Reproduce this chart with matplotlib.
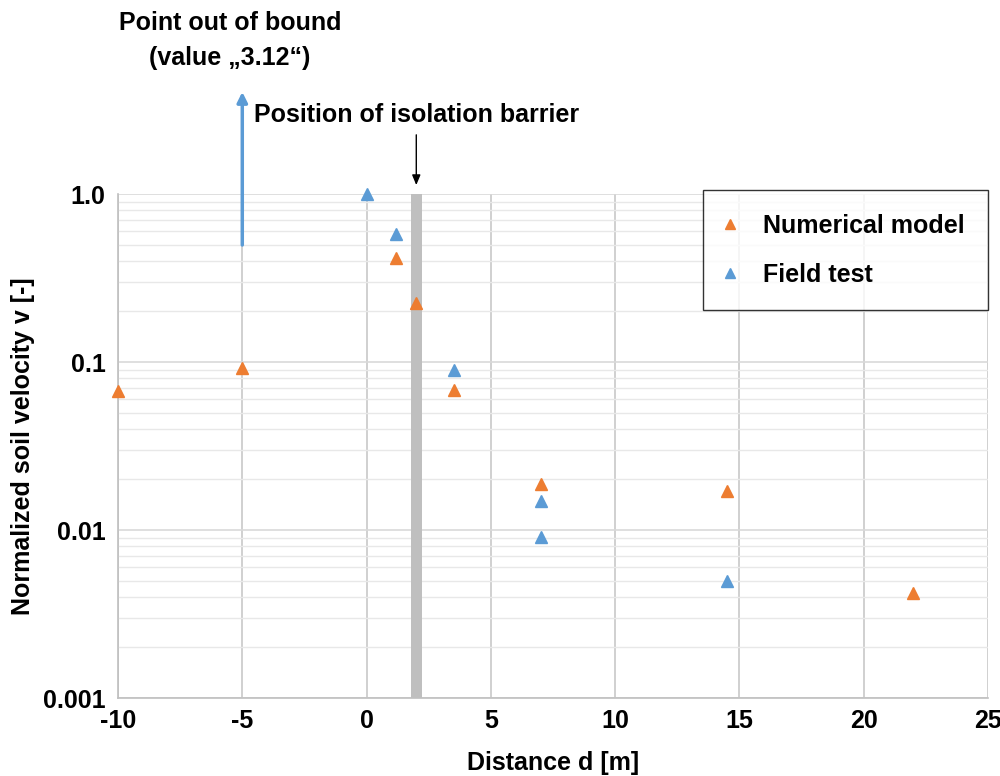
import matplotlib
matplotlib.use("Agg")
from matplotlib import pyplot as plt
from matplotlib.ticker import FixedLocator, NullFormatter, LogLocator

plt.rcParams['font.family'] = ['Liberation Sans', 'DejaVu Sans']
plt.rcParams['font.weight'] = 'bold'

# data
num_x = [-10, -5, 1.2, 2, 3.5, 7, 14.5, 22]
num_v = [0.067, 0.092, 0.416, 0.224, 0.068, 0.0188, 0.017, 0.0042]
field_x = [0, 1.2, 3.5, 7, 7, 14.5]
field_v = [1.0, 0.578, 0.0896, 0.0149, 0.0091, 0.005]
out_x = -5            # field point out of bound
out_v = 3.12
barrier_x = 2.0
barrier_w = 0.45
xticks = [-10, -5, 0, 5, 10, 15, 20, 25]
yticks = [0.001, 0.01, 0.1, 1.0]
ytick_labels = ['0.001', '0.01', '0.1', '1.0']

orange = '#ED7D31'
blue = '#5B9BD5'
fs = 18

fig = plt.figure(figsize=(10, 7.76), dpi=100)
ax = fig.add_axes([0.118, 0.1005, 0.870, 0.6495])
ax.set_yscale('log')
ax.set_xlim(-10, 25)
ax.set_ylim(0.001, 1.0)

# grid
ax.yaxis.set_minor_locator(LogLocator(base=10, subs=range(2, 10)))
ax.yaxis.set_minor_formatter(NullFormatter())
ax.grid(True, which='major', axis='y', color='#D9D9D9', lw=1.2)
ax.grid(True, which='minor', axis='y', color='#E8E8E8', lw=1.0)
ax.grid(True, which='major', axis='x', color='#C8C8C8', lw=1.2)
ax.set_axisbelow(True)

# barrier
ax.axvspan(barrier_x - barrier_w / 2, barrier_x + barrier_w / 2, color='#BFBFBF', lw=0, zorder=1.5)

ax.plot(num_x, num_v, ls='none', marker='^', ms=8.5, color=orange, label='Numerical model',
        zorder=3, clip_on=False)
ax.plot(field_x, field_v, ls='none', marker='^', ms=8.5, color=blue, label='Field test',
        zorder=3, clip_on=False)

# out-of-bound point arrow
ax.annotate('', xy=(out_x, 4.05), xytext=(out_x, 0.497), xycoords='data',
            arrowprops=dict(arrowstyle='-|>,head_length=0.6,head_width=0.3', color=blue, lw=2.5,
                            shrinkA=0, shrinkB=0), annotation_clip=False)
fig.text(0.230, 0.971, 'Point out of bound', ha='center', va='center', fontsize=fs, fontweight='bold')
fig.text(0.230, 0.925, '(value \u201e3.12\u201c)', ha='center', va='center', fontsize=fs, fontweight='bold')

# barrier arrow
ax.annotate('', xy=(barrier_x, 1.13), xytext=(barrier_x, 2.25),
            arrowprops=dict(arrowstyle='-|>,head_length=0.6,head_width=0.25', color='black', lw=1,
                            shrinkA=0, shrinkB=0), annotation_clip=False)
fig.text(0.254, 0.852, 'Position of isolation barrier', ha='left', va='center', fontsize=fs, fontweight='bold')

ax.set_xticks(xticks)
ax.set_xticklabels([str(t) for t in xticks])
ax.yaxis.set_major_locator(FixedLocator(yticks))
ax.set_yticklabels(ytick_labels)
ax.tick_params(axis='both', which='both', length=0, labelsize=fs)
ax.tick_params(axis='x', pad=8)
ax.tick_params(axis='y', pad=9)
for lab in ax.get_xticklabels() + ax.get_yticklabels():
    lab.set_fontweight('bold')

for s in ['top', 'right']:
    ax.spines[s].set_visible(False)
for s in ['left', 'bottom']:
    ax.spines[s].set_color('#BFBFBF')
    ax.spines[s].set_linewidth(1.2)

ax.set_xlabel('Distance d [m]', fontsize=fs, fontweight='bold', labelpad=13)
ax.set_ylabel('Normalized soil velocity v [-]', fontsize=fs, fontweight='bold', labelpad=6)

leg = ax.legend(loc='upper right', bbox_to_anchor=(1.0, 1.008), frameon=True, fancybox=False,
                edgecolor='black', fontsize=fs, borderpad=0.95, labelspacing=1.0,
                handletextpad=1.15, handlelength=0.3, borderaxespad=0, markerscale=0.8)
leg.get_frame().set_linewidth(1.0)
for t in leg.get_texts():
    t.set_fontweight('bold')

fig.savefig('out.png', dpi=100)
